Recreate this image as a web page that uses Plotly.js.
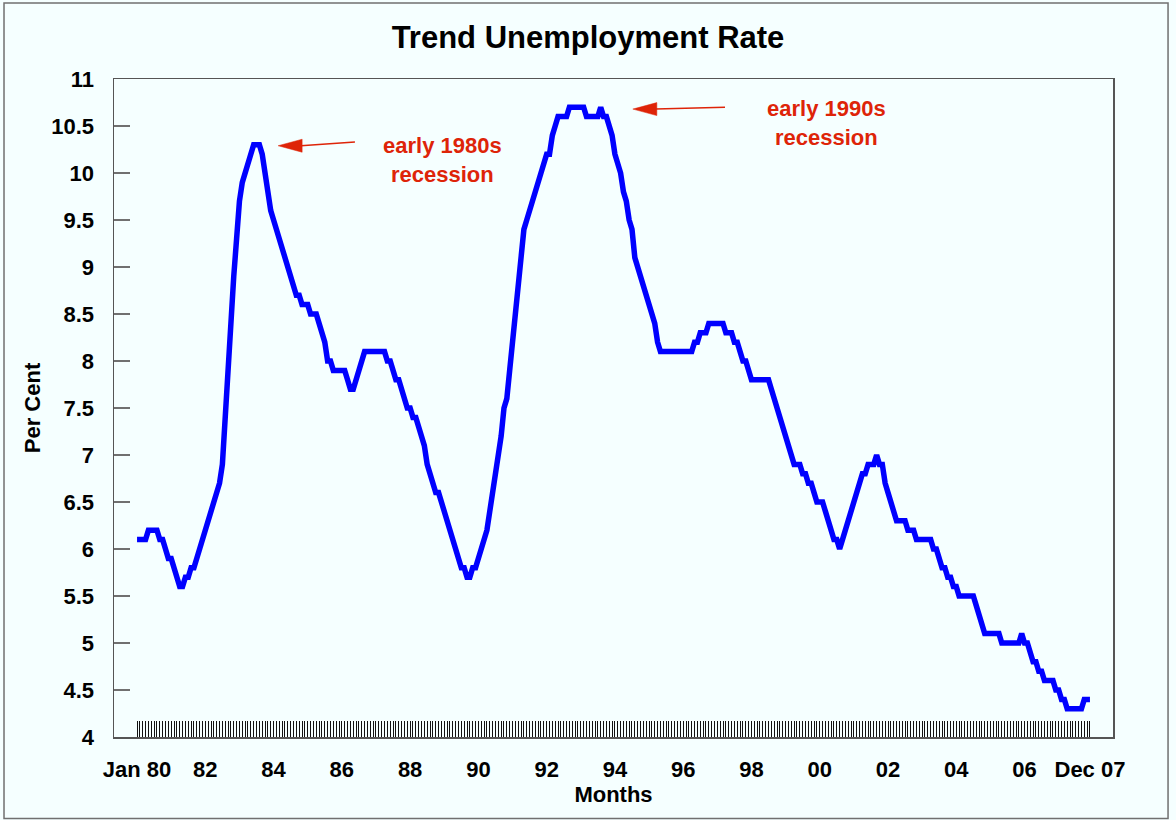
<!DOCTYPE html>
<html>
<head>
<meta charset="utf-8">
<script src="https://cdn.plot.ly/plotly-3.0.1.min.js"></script>
<style>html,body{margin:0;padding:0;background:#f5ffff;}#chart{width:1176px;height:820px;}</style>
</head>
<body>
<div id="chart"></div>
<script>
// Trend unemployment rate, monthly, Jan 1980 .. Dec 2007 (per cent)
const rate1980s = [
  6.1,6.1,6.1,6.1,6.2,6.2,6.2,6.2,6.1,6.1,6.0,5.9,
  5.9,5.8,5.7,5.6,5.6,5.7,5.7,5.8,5.8,5.9,6.0,6.1,
  6.2,6.3,6.4,6.5,6.6,6.7,6.9,7.4,8.0,8.6,8.9,9.3,
  9.7,9.9,10.0,10.1,10.2,10.3,10.3,10.3,10.2,10.0,9.8,9.6,
  9.5,9.4,9.3,9.2,9.1,9.0,8.9,8.8,8.7,8.7,8.6,8.6,
  8.6,8.5,8.5,8.5,8.4,8.3,8.2,8.0,8.0,7.9,7.9,7.9,
  7.9,7.9,7.8,7.7,7.7,7.8,7.9,8.0,8.1,8.1,8.1,8.1,
  8.1,8.1,8.1,8.1,8.0,8.0,7.9,7.8,7.8,7.7,7.6,7.5,
  7.5,7.4,7.4,7.3,7.2,7.1,6.9,6.8,6.7,6.6,6.6,6.5,
  6.4,6.3,6.2,6.1,6.0,5.9,5.8,5.8,5.7,5.7,5.8,5.8
];
const rate1990s = [
  5.9,6.0,6.1,6.2,6.4,6.6,6.8,7.0,7.2,7.5,7.6,7.9,
  8.2,8.6,8.8,9.1,9.4,9.5,9.6,9.7,9.8,9.9,10.0,10.1,
  10.2,10.2,10.4,10.5,10.6,10.6,10.6,10.6,10.7,10.7,10.7,10.7,
  10.7,10.7,10.6,10.6,10.6,10.6,10.6,10.7,10.6,10.6,10.5,10.4,
  10.2,10.1,10.0,9.8,9.7,9.5,9.4,9.1,9.0,8.9,8.8,8.7,
  8.6,8.5,8.4,8.2,8.1,8.1,8.1,8.1,8.1,8.1,8.1,8.1,
  8.1,8.1,8.1,8.1,8.2,8.2,8.3,8.3,8.3,8.4,8.4,8.4,
  8.4,8.4,8.4,8.3,8.3,8.3,8.2,8.2,8.1,8.0,8.0,7.9,
  7.8,7.8,7.8,7.8,7.8,7.8,7.8,7.7,7.6,7.5,7.4,7.3,
  7.2,7.1,7.0,6.9,6.9,6.9,6.8,6.8,6.7,6.7,6.6,6.5
];
const rate2000s = [
  6.5,6.5,6.4,6.3,6.2,6.1,6.1,6.0,6.1,6.2,6.3,6.4,
  6.5,6.6,6.7,6.8,6.8,6.9,6.9,6.9,7.0,6.9,6.9,6.7,
  6.6,6.5,6.4,6.3,6.3,6.3,6.3,6.2,6.2,6.2,6.1,6.1,
  6.1,6.1,6.1,6.1,6.0,6.0,5.9,5.8,5.8,5.7,5.7,5.6,
  5.6,5.5,5.5,5.5,5.5,5.5,5.5,5.4,5.3,5.2,5.1,5.1,
  5.1,5.1,5.1,5.1,5.0,5.0,5.0,5.0,5.0,5.0,5.0,5.1,
  5.0,5.0,4.9,4.8,4.8,4.7,4.7,4.6,4.6,4.6,4.6,4.5,
  4.5,4.4,4.4,4.3,4.3,4.3,4.3,4.3,4.3,4.4,4.4,4.4
];
const rate = rate1980s.concat(rate1990s, rate2000s);
const monthIndex = rate.map((_, i) => i);   // 0 = Jan 1980

const labelMonths = [0,24,48,72,96,120,144,168,192,216,240,264,288,312,335];
const labelTexts  = ['Jan 80','82','84','86','88','90','92','94','96','98','00','02','04','06','Dec 07'];

const notes = [
  {text: 'early 1980s<br>recession', month: 107.5, value: 10.14, tipMonth: 49.6, tipValue: 10.29, tailMonth: 76.6, tailValue: 10.33},
  {text: 'early 1990s<br>recession', month: 242.5, value: 10.53, tipMonth: 174.3, tipValue: 10.68, tailMonth: 206.7, tailValue: 10.70}
];

const FONT = '"Liberation Sans", Arial, Helvetica, sans-serif';
const RED = 'rgb(222,36,8)';
const BG = '#f5ffff';

const tickText = monthIndex.map(m => {
  const k = labelMonths.indexOf(m);
  return k >= 0 ? labelTexts[k] : '';
});

const annotations = [];
const shapes = [];
notes.forEach(n => {
  annotations.push({
    x: n.month, y: n.value, xref: 'x', yref: 'y', text: n.text, showarrow: false,
    font: {family: FONT, size: 22, color: RED, weight: 'bold'}, align: 'center'
  });
  shapes.push({
    type: 'line', xref: 'x', yref: 'y', x0: n.tailMonth, y0: n.tailValue, x1: n.tipMonth + 8, y1: n.tipValue,
    line: {color: RED, width: 1.5}
  });
  shapes.push({
    type: 'path', xref: 'x', yref: 'y', xsizemode: 'pixel', ysizemode: 'pixel',
    xanchor: n.tipMonth, yanchor: n.tipValue,
    path: 'M0,0 L24,6.5 L24,-6.5 Z', fillcolor: RED, line: {color: RED, width: 0.5}
  });
});
// outer frame around the whole figure
shapes.push({
  type: 'rect', xref: 'paper', yref: 'paper', x0: -0.1101, x1: 1.0551, y0: -0.124, y1: 1.1155,
  line: {color: '#707070', width: 1.5}, fillcolor: 'rgba(0,0,0,0)', layer: 'below'
});

const trace = {
  x: monthIndex, y: rate, type: 'scatter', mode: 'lines',
  line: {color: '#0000ff', width: 5.5, shape: 'linear'},
  hoverinfo: 'skip'
};

const layout = {
  width: 1176, height: 820,
  margin: {l: 114, r: 63, t: 79, b: 83},
  paper_bgcolor: BG, plot_bgcolor: BG,
  showlegend: false,
  font: {family: FONT, color: '#000'},
  title: {
    text: 'Trend Unemployment Rate',
    font: {family: FONT, size: 31, color: '#000', weight: 'bold'},
    x: 0.5, xanchor: 'center', y: 0.955, yanchor: 'middle'
  },
  xaxis: {
    range: [-8.1, 343.1], fixedrange: true,
    tickmode: 'array', tickvals: monthIndex, ticktext: tickText,
    ticks: 'inside', ticklen: 16, tickwidth: 1, tickcolor: '#111',
    tickangle: 0, ticklabelstandoff: 12,
    tickfont: {family: FONT, size: 22, color: '#000', weight: 'bold'},
    showgrid: false, zeroline: false,
    showline: true, mirror: true, linecolor: '#555', linewidth: 1.5,
    title: {text: 'Months', standoff: 4, font: {family: FONT, size: 22, color: '#000', weight: 'bold'}}
  },
  yaxis: {
    range: [4, 11], fixedrange: true,
    tickmode: 'linear', tick0: 4, dtick: 0.5,
    ticks: 'inside', ticklen: 16, tickwidth: 2, tickcolor: '#707070',
    ticklabelstandoff: 14,
    tickfont: {family: FONT, size: 22, color: '#000', weight: 'bold'},
    showgrid: false, zeroline: false,
    showline: true, mirror: true, linecolor: '#555', linewidth: 1.5,
    title: {text: 'Per Cent', standoff: 4, font: {family: FONT, size: 22, color: '#000', weight: 'bold'}}
  },
  annotations: annotations,
  shapes: shapes
};

Plotly.newPlot('chart', [trace], layout, {displayModeBar: false, staticPlot: true});
</script>
</body>
</html>
